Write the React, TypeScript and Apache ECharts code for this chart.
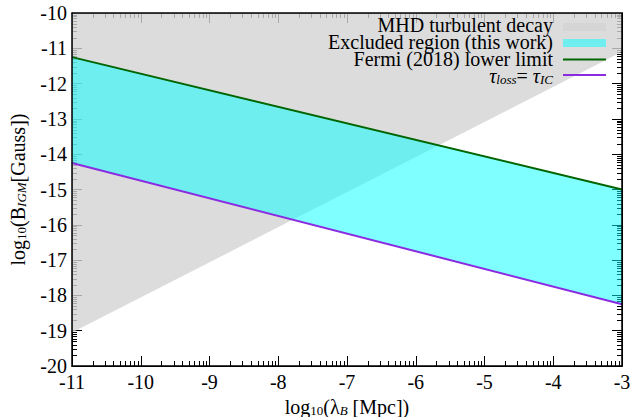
import React, { useEffect, useRef } from "react";
import * as echarts from "echarts";

// ---- data ----
const lambdaEnds = [-11, -3]; // log10(lambda_B [Mpc]) at the two ends
const fermiLowerLimit = [-11.25, -15.0]; // log10(B) Fermi (2018) lower limit
const tauLossEqIC = [-14.25, -18.25]; // log10(B) where tau_loss = tau_IC
const mhdDecayEdge = [-19.05, -11.1]; // lower edge of MHD turbulent decay region

const X_MIN = -11;
const X_MAX = -3;
const Y_MIN = -20;
const Y_MAX = -10;
const xMajorTicks = [-11, -10, -9, -8, -7, -6, -5, -4, -3];
const yMajorTicks = [-20, -19, -18, -17, -16, -15, -14, -13, -12, -11, -10];
const minorMultipliers = [2, 3, 4, 5, 6, 7, 8, 9];

const legendLabels = [
  "MHD turbulent decay",
  "Excluded region (this work)",
  "Fermi (2018) lower limit",
  "{i|τ}{is|loss}{t|= }{i|τ}{is|IC}",
];

const FONT = "Liberation Serif";
const GRAY_FILL = "rgba(211,211,211,0.8)";
const CYAN_FILL = "rgba(0,255,255,0.5)";
const GREEN = "#006400";
const PURPLE = "#8a2be2";

function majorAxis(min: number, max: number, position: string, extra: any) {
  return {
    type: "value",
    min,
    max,
    interval: 1,
    position,
    axisLine: { show: true, lineStyle: { color: "#000", width: 1 } },
    splitLine: { show: false },
    axisTick: { show: true, inside: true, length: 10, lineStyle: { color: "#000", width: 1 } },
    axisLabel: { show: false },
    ...extra,
  };
}

export default function App() {
  const ref = useRef<HTMLDivElement>(null);
  useEffect(() => {
    if (!ref.current) return;
    const chart = echarts.init(ref.current, undefined, { renderer: "svg" });
    const richBase = () => ({
      t: { fontFamily: FONT, fontSize: 20, color: "#000" },
      s: { fontFamily: FONT, fontSize: 13, color: "#000", padding: [8, 0, 0, 0] },
      si: { fontFamily: FONT, fontSize: 13, fontStyle: "italic", color: "#000", padding: [8, 0, 0, 0] },
    });
    const tickLine = (x1: number, y1: number, x2: number, y2: number) => ({
      type: "line",
      shape: { x1, y1, x2, y2 },
      style: { stroke: "#000", lineWidth: 1 },
    });
    const legendText = (text: string, y: number) => ({
      type: "text",
      x: 553,
      y,
      z: 10,
      style: {
        text,
        fontFamily: FONT,
        fontSize: 20,
        lineHeight: 17,
        fill: "#000",
        align: "right",
        verticalAlign: "middle",
      },
    });
    const option: any = {
      animation: false,
      grid: { left: 72, right: 11, top: 13, bottom: 51, containLabel: false, outerBoundsMode: "none" },
      xAxis: [
        majorAxis(X_MIN, X_MAX, "bottom", {
          axisLabel: { show: true, color: "#000", fontFamily: FONT, fontSize: 20, margin: 6 },
          name: "{t|log}{s|10}{t|(λ}{si|B}{t| [Mpc])}",
          nameLocation: "middle",
          nameGap: 29,
          nameTextStyle: { rich: richBase() },
        }),
        majorAxis(X_MIN, X_MAX, "top", {}),
      ],
      yAxis: [
        majorAxis(Y_MIN, Y_MAX, "left", {
          axisLabel: { show: true, color: "#000", fontFamily: FONT, fontSize: 20, margin: 5 },
          name: "{t|log}{s|10}{t|(B}{si|IGM}{t|[Gauss])}",
          nameLocation: "middle",
          nameRotate: 90,
          nameGap: 44,
          nameTextStyle: { rich: richBase() },
        }),
        majorAxis(Y_MIN, Y_MAX, "right", {}),
      ],
      series: [
        {
          type: "custom",
          name: "ticks",
          data: [[X_MIN, Y_MIN]],
          renderItem: (params: any, api: any) => {
            const cs = params.coordSys;
            const children: any[] = [];
            const yb = cs.y + cs.height;
            const xr = cs.x + cs.width;
            xMajorTicks.forEach((m) => {
              if (m >= X_MAX) return;
              minorMultipliers.forEach((k) => {
                const x = Math.round(api.coord([m + Math.log10(k), Y_MIN])[0]) + 0.5;
                children.push(tickLine(x, yb, x, yb - 5), tickLine(x, cs.y, x, cs.y + 5));
              });
            });
            yMajorTicks.forEach((m) => {
              if (m >= Y_MAX) return;
              minorMultipliers.forEach((k) => {
                const y = Math.round(api.coord([X_MIN, m + Math.log10(k)])[1]) + 0.5;
                children.push(tickLine(cs.x, y, cs.x + 5, y), tickLine(xr, y, xr - 5, y));
              });
            });
            return { type: "group", children };
          },
        },
        {
          type: "custom",
          name: "MHD turbulent decay",
          z: 2,
          silent: true,
          data: [[lambdaEnds[0], mhdDecayEdge[0]]],
          renderItem: (_params: any, api: any) => {
            const pts = [
              api.coord([lambdaEnds[0], mhdDecayEdge[0]]),
              api.coord([lambdaEnds[1], mhdDecayEdge[1]]),
              api.coord([lambdaEnds[1], Y_MAX]),
              api.coord([lambdaEnds[0], Y_MAX]),
            ];
            return { type: "polygon", shape: { points: pts }, style: { fill: GRAY_FILL } };
          },
        },
        {
          type: "custom",
          name: "Excluded region (this work)",
          z: 3,
          silent: true,
          data: [[lambdaEnds[0], fermiLowerLimit[0]]],
          renderItem: (_params: any, api: any) => {
            const pts = [
              api.coord([lambdaEnds[0], fermiLowerLimit[0]]),
              api.coord([lambdaEnds[1], fermiLowerLimit[1]]),
              api.coord([lambdaEnds[1], tauLossEqIC[1]]),
              api.coord([lambdaEnds[0], tauLossEqIC[0]]),
            ];
            return { type: "polygon", shape: { points: pts }, style: { fill: CYAN_FILL } };
          },
        },
        {
          type: "line",
          name: "Fermi (2018) lower limit",
          z: 4,
          symbol: "none",
          data: lambdaEnds.map((x, i) => [x, fermiLowerLimit[i]]),
          lineStyle: { color: GREEN, width: 2 },
        },
        {
          type: "line",
          name: "tau_loss = tau_IC",
          z: 4,
          symbol: "none",
          data: lambdaEnds.map((x, i) => [x, tauLossEqIC[i]]),
          lineStyle: { color: PURPLE, width: 2 },
        },
        {
          type: "custom",
          name: "frame",
          z: 6,
          silent: true,
          data: [[X_MIN, Y_MIN]],
          renderItem: (params: any) => {
            const cs = params.coordSys;
            return {
              type: "rect",
              shape: { x: cs.x, y: cs.y, width: cs.width, height: cs.height },
              style: { fill: "none", stroke: "#000", lineWidth: 1.5 },
            };
          },
        },
      ],
      graphic: [
        legendText(legendLabels[0], 25),
        { type: "rect", z: 10, shape: { x: 563, y: 23, width: 43, height: 8 }, style: { fill: GRAY_FILL } },
        legendText(legendLabels[1], 42),
        { type: "rect", z: 10, shape: { x: 563, y: 39, width: 43, height: 8 }, style: { fill: CYAN_FILL } },
        legendText(legendLabels[2], 59),
        { type: "line", z: 10, shape: { x1: 563, y1: 59.5, x2: 606, y2: 59.5 }, style: { stroke: GREEN, lineWidth: 2 } },
        {
          type: "text",
          x: 553,
          y: 76,
          z: 10,
          style: {
            text: legendLabels[3],
            fill: "#000",
            align: "right",
            verticalAlign: "middle",
            rich: {
              i: { fontFamily: FONT, fontSize: 20, fontStyle: "italic", color: "#000", lineHeight: 17 },
              is: { fontFamily: FONT, fontSize: 13, fontStyle: "italic", color: "#000", lineHeight: 17, padding: [6, 0, 0, 0] },
              t: { fontFamily: FONT, fontSize: 20, color: "#000", lineHeight: 17 },
            },
          },
        },
        { type: "line", z: 10, shape: { x1: 563, y1: 75, x2: 606, y2: 75 }, style: { stroke: PURPLE, lineWidth: 2 } },
      ],
    };
    chart.setOption(option);
    return () => chart.dispose();
  }, []);
  return <div ref={ref} style={{ width: 633, height: 417, position: "absolute", left: 0, top: 0 }} />;
}
